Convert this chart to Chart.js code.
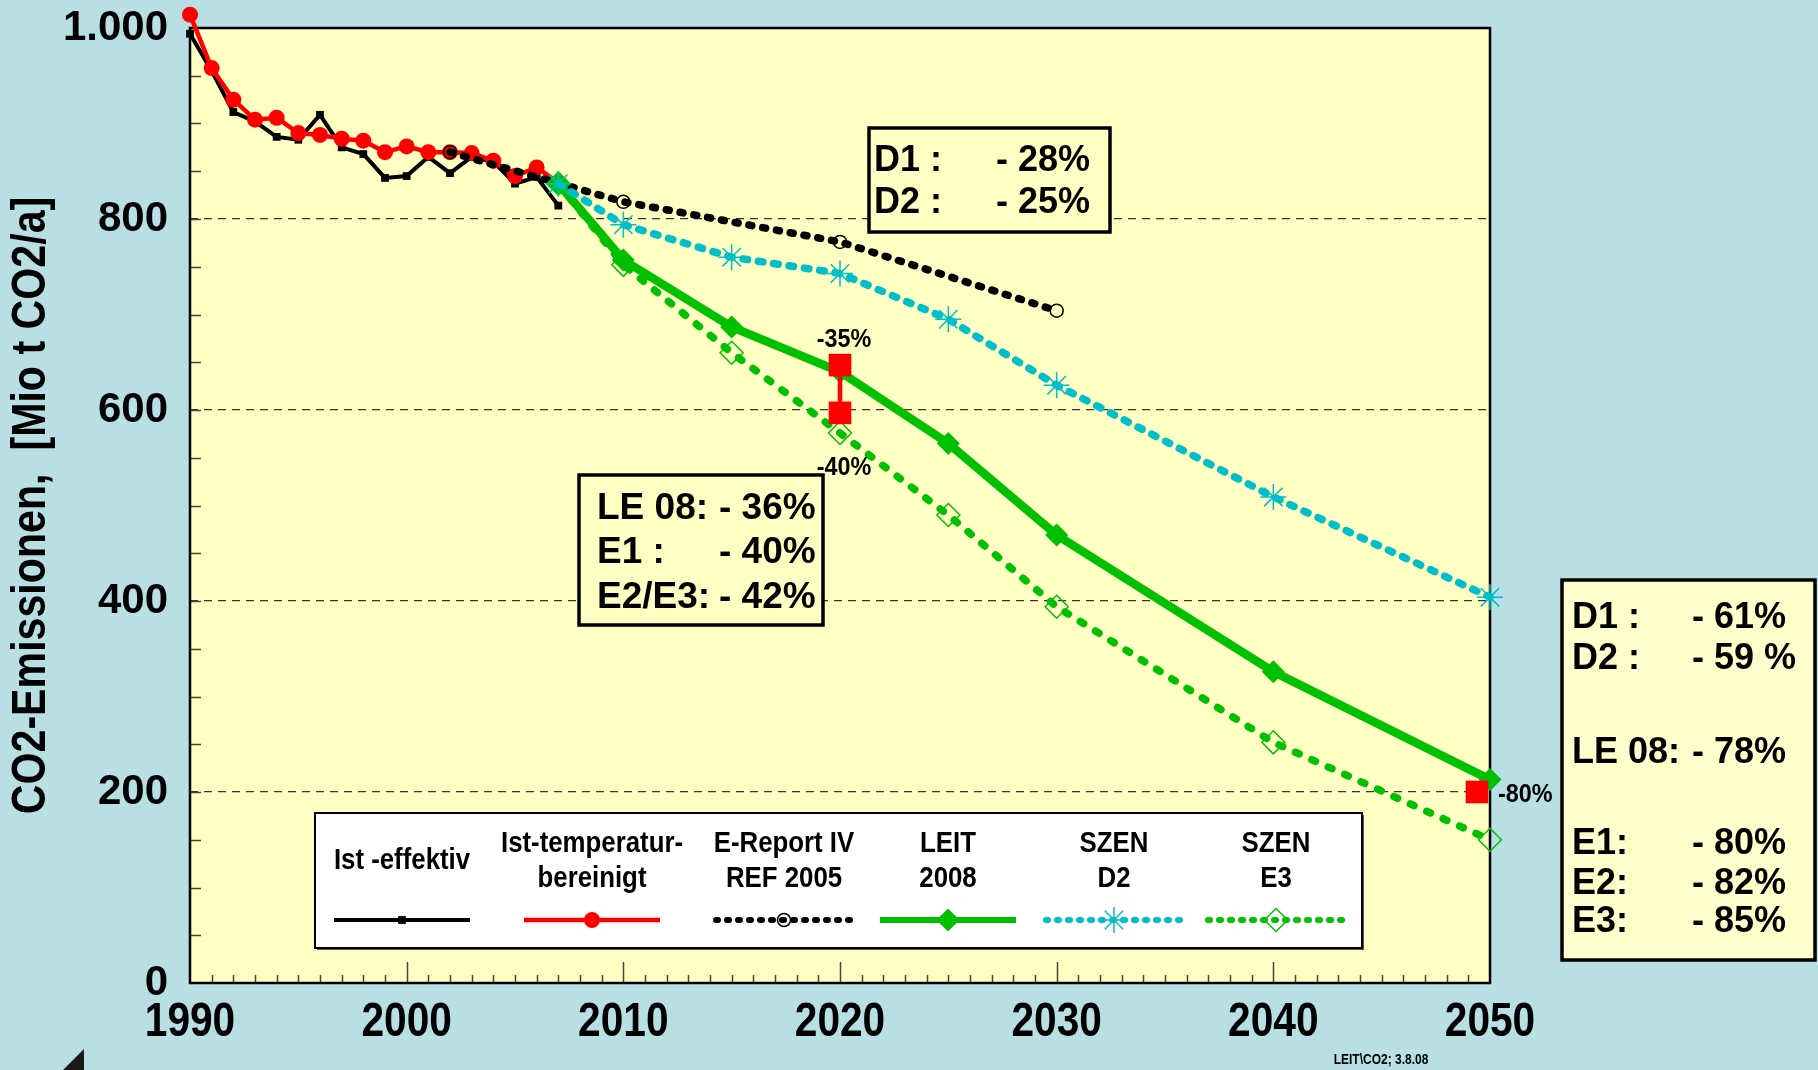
<!DOCTYPE html>
<html>
<head>
<meta charset="utf-8">
<script src="https://cdn.jsdelivr.net/npm/chart.js@4.4.0/dist/chart.umd.min.js"></script>
<style>
  html, body { margin: 0; padding: 0; background: #b8dfe3; }
  #wrap { width: 1818px; height: 1070px; }
</style>
</head>
<body>
<div id="wrap"><canvas id="co2Chart" width="1818" height="1070"></canvas></div>
<script>
// historical values (Mio t CO2/a)
const histYears = [1990, 1991, 1992, 1993, 1994, 1995, 1996, 1997, 1998, 1999, 2000, 2001, 2002, 2003, 2004, 2005, 2006, 2007];
const istEffektiv = [994, 955, 912, 902, 886, 883, 909, 875, 868, 843, 845, 865, 848, 865, 860, 837, 844, 814];
const istBereinigt = [1014, 958, 925, 904, 906, 890, 888, 884, 882, 870, 876, 870, 870, 869, 861, 845, 854, 838];

// scenarios
const refYears = [2002, 2010, 2020, 2030];
const eReportRef = [870, 818, 776, 704];
const scenYears = [2007, 2010, 2015, 2020, 2025, 2030, 2040, 2050];
const leit2008 = [837, 757, 687, 640, 565, 469, 326, 213];
const szenD2 = [837, 794, 760, 743, 695, 626, 509, 404];
const szenE3 = [837, 752, 660, 576, 490, 394, 252, 150];

// targets
const targetYears2020 = [2020, 2020];
const target2020 = [647, 597];
const targetYears2050 = [2049.4];
const target2050 = [200];

const yTicks = [0, 200, 400, 600, 800, 1000];
const yTickLabels = ['0', '200', '400', '600', '800', '1.000'];
const xTicks = [1990, 2000, 2010, 2020, 2030, 2040, 2050];
const xTickLabels = ['1990', '2000', '2010', '2020', '2030', '2040', '2050'];

const SANS = "'Liberation Sans', Arial, sans-serif";

const BLUE_BG = '#b8dfe3';
const PLOT_BG = '#ffffc4';
const GREEN = '#00c000';
const CYAN = '#00bfc8';
const RED = '#ff0000';

function pts(xs, ys) {
  return xs.map((x, i) => ({ x: x, y: ys[i] }));
}

// no narrow font installed, so squeeze Liberation Sans horizontally
function narrowText(ctx, text, x, y, size, sx, align, rot) {
  ctx.save();
  ctx.font = 'bold ' + size + 'px ' + SANS;
  ctx.translate(x, y);
  if (rot) ctx.rotate(rot);
  ctx.scale(sx, 1);
  ctx.textAlign = align || 'center';
  ctx.textBaseline = 'middle';
  ctx.fillText(text, 0, 0);
  ctx.restore();
}

const legendCols = [
  { lines: ['Ist -effektiv'], ds: 0 },
  { lines: ['Ist-temperatur-', 'bereinigt'], ds: 1 },
  { lines: ['E-Report IV', 'REF 2005'], ds: 2 },
  { lines: ['LEIT', '2008'], ds: 3 },
  { lines: ['SZEN', 'D2'], ds: 4 },
  { lines: ['SZEN', 'E3'], ds: 5 }
];

const bgPlugin = {
  id: 'bg',
  beforeDraw(chart) {
    const { ctx, chartArea: a } = chart;
    ctx.save();
    ctx.fillStyle = BLUE_BG;
    ctx.fillRect(0, 0, chart.width, chart.height);
    ctx.fillStyle = PLOT_BG;
    ctx.fillRect(a.left, a.top, a.right - a.left, a.bottom - a.top);
    ctx.restore();
  }
};

const framePlugin = {
  id: 'frame',
  beforeDatasetsDraw(chart) {
    const { ctx, chartArea: a, scales } = chart;
    ctx.save();
    ctx.strokeStyle = '#444';
    ctx.lineWidth = 1.5;
    for (let v = 50; v < 1000; v += 50) {
      const y = Math.round(scales.y.getPixelForValue(v)) + 0.5;
      ctx.beginPath();
      ctx.moveTo(a.left, y);
      ctx.lineTo(a.left + 11, y);
      ctx.stroke();
    }
    for (let yr = 1991; yr < 2050; yr++) {
      const x = Math.round(scales.x.getPixelForValue(yr)) + 0.5;
      const len = yr % 10 === 0 ? 21 : 8;
      ctx.beginPath();
      ctx.moveTo(x, a.bottom);
      ctx.lineTo(x, a.bottom - len);
      ctx.stroke();
    }
    ctx.strokeStyle = '#000';
    ctx.lineWidth = 2.5;
    ctx.strokeRect(a.left, a.top, a.right - a.left, a.bottom - a.top);

    // x tick labels and y title (condensed)
    ctx.fillStyle = '#000';
    xTicks.forEach((v, i) => {
      narrowText(ctx, xTickLabels[i], scales.x.getPixelForValue(v), 1022, 49, 0.83, 'center');
    });
    narrowText(ctx, 'CO2-Emissionen,  [Mio t CO2/a]', 31, (a.top + a.bottom) / 2, 49, 0.84, 'center', -Math.PI / 2);
    ctx.restore();
  },
  afterDatasetsDraw(chart) {
    // 1990 value lies above the axis maximum; Chart.js skips such points, so draw it unbounded
    const p = chart.getDatasetMeta(1).data[0];
    if (p) p.draw(chart.ctx, { left: 0, top: 0, right: chart.width, bottom: chart.height });
  }
};

function textBox(ctx, x, y, w, h, fill, rows, labelX, valueX) {
  ctx.fillStyle = fill;
  ctx.fillRect(x, y, w, h);
  ctx.strokeStyle = '#000';
  ctx.lineWidth = 3.5;
  ctx.strokeRect(x, y, w, h);
  ctx.fillStyle = '#000';
  ctx.textBaseline = 'middle';
  ctx.textAlign = 'left';
  rows.forEach(r => {
    ctx.fillText(r[0], labelX, r[2]);
    if (r[1]) ctx.fillText(r[1], valueX, r[2]);
  });
}

const notesPlugin = {
  id: 'notes',
  afterDraw(chart) {
    const { ctx, scales } = chart;
    const xs = scales.x, ys = scales.y;
    ctx.save();

    // boxes
    ctx.font = 'bold 36px ' + SANS;
    textBox(ctx, 869, 128, 241, 104, PLOT_BG,
      [['D1 :', '- 28%', 161], ['D2 :', '- 25%', 203]], 874, 996);
    ctx.font = 'bold 37px ' + SANS;
    textBox(ctx, 579, 475, 244, 150, PLOT_BG,
      [['LE 08:', '- 36%', 509], ['E1 :', '- 40%', 553], ['E2/E3:', '- 42%', 598]], 597, 719);
    ctx.font = 'bold 36px ' + SANS;
    textBox(ctx, 1562, 580, 253, 380, '#ffffcc',
      [['D1 :', '- 61%', 618], ['D2 :', '- 59 %', 659], ['LE 08:', '- 78%', 753],
       ['E1:', '- 80%', 844], ['E2:', '- 82%', 884], ['E3:', '- 85%', 922]], 1572, 1692);

    // target labels
    ctx.fillStyle = '#000';
    const tx = xs.getPixelForValue(targetYears2020[0]) + 4;
    narrowText(ctx, '-35%', tx, ys.getPixelForValue(target2020[0]) - 25, 26, 0.9, 'center');
    narrowText(ctx, '-40%', tx, ys.getPixelForValue(target2020[1]) + 55, 26, 0.9, 'center');
    narrowText(ctx, '-80%', xs.getPixelForValue(2050) + 8, ys.getPixelForValue(target2050[0]) + 3, 26, 0.9, 'left');

    // legend
    const lx = 315, ly = 813, lw = 1047, lh = 135;
    ctx.fillStyle = '#555';
    ctx.fillRect(lx + 2, ly + 2, lw, lh);
    ctx.fillStyle = '#ffffff';
    ctx.fillRect(lx, ly, lw, lh);
    ctx.strokeStyle = '#000';
    ctx.lineWidth = 2;
    ctx.strokeRect(lx, ly, lw, lh);
    const centers = [402, 592, 784, 948, 1114, 1276];
    legendCols.forEach((col, i) => {
      const cx = centers[i];
      ctx.fillStyle = '#000';
      if (col.lines.length === 1) {
        narrowText(ctx, col.lines[0], cx, 861, 30, 0.86, 'center');
      } else {
        narrowText(ctx, col.lines[0], cx, 844, 30, 0.86, 'center');
        narrowText(ctx, col.lines[1], cx, 879, 30, 0.86, 'center');
      }
      const ds = chart.data.datasets[col.ds];
      ctx.save();
      ctx.strokeStyle = ds.borderColor;
      ctx.lineWidth = Math.min(ds.borderWidth, 6);
      ctx.lineCap = ds.borderCapStyle || 'butt';
      ctx.setLineDash(ds.borderDash ? [2, 9] : []);
      ctx.beginPath();
      ctx.moveTo(cx - 68, 920);
      ctx.lineTo(cx + 68, 920);
      ctx.stroke();
      ctx.restore();
      ctx.save();
      ctx.fillStyle = ds.pointBackgroundColor;
      ctx.strokeStyle = ds.pointBorderColor;
      ctx.lineWidth = ds.pointBorderWidth;
      Chart.helpers.drawPoint(ctx, {
        pointStyle: ds.pointStyle, radius: ds.pointRadius, rotation: 0,
        borderWidth: ds.pointBorderWidth
      }, cx, 920);
      ctx.restore();
    });

    // footnote and corner mark
    ctx.fillStyle = '#000';
    narrowText(ctx, 'LEIT\\CO2; 3.8.08', 1381, 1060, 15, 0.8, 'center');
    ctx.fillStyle = '#1a1a1a';
    ctx.beginPath();
    ctx.moveTo(84, 1049);
    ctx.lineTo(84, 1070);
    ctx.lineTo(63, 1070);
    ctx.closePath();
    ctx.fill();
    ctx.restore();
  }
};

const ctx = document.getElementById('co2Chart');
new Chart(ctx, {
  type: 'line',
  data: {
    datasets: [
      {
        label: 'Ist -effektiv', data: pts(histYears, istEffektiv), order: 8, clip: false,
        borderColor: '#000', borderWidth: 4, pointStyle: 'rect', pointRadius: 5.5,
        pointBackgroundColor: '#000', pointBorderColor: '#000', pointBorderWidth: 0
      },
      {
        label: 'Ist-temperatur-bereinigt', data: pts(histYears, istBereinigt), order: 7, clip: false,
        borderColor: RED, borderWidth: 4.5, pointStyle: 'circle', pointRadius: 8,
        pointBackgroundColor: RED, pointBorderColor: RED, pointBorderWidth: 0
      },
      {
        label: 'E-Report IV REF 2005', data: pts(refYears, eReportRef), order: 6, clip: false,
        borderColor: '#000', borderWidth: 7.5, borderDash: [3, 11], borderCapStyle: 'round',
        pointStyle: 'circle', pointRadius: 6.5, pointBackgroundColor: 'rgba(0,0,0,0)',
        pointBorderColor: '#000', pointBorderWidth: 1.5
      },
      {
        label: 'LEIT 2008', data: pts(scenYears, leit2008), order: 4, clip: false,
        borderColor: GREEN, borderWidth: 8.5, pointStyle: 'rectRot', pointRadius: 11.5,
        pointBackgroundColor: GREEN, pointBorderColor: GREEN, pointBorderWidth: 0
      },
      {
        label: 'SZEN D2', data: pts(scenYears, szenD2), order: 3, clip: false,
        borderColor: CYAN, borderWidth: 7.5, borderDash: [4.5, 11], borderCapStyle: 'round',
        pointStyle: 'star', pointRadius: 13, pointBackgroundColor: CYAN,
        pointBorderColor: CYAN, pointBorderWidth: 1.5
      },
      {
        label: 'SZEN E3', data: pts(scenYears, szenE3), order: 5, clip: false,
        borderColor: GREEN, borderWidth: 7.5, borderDash: [4, 14], borderCapStyle: 'round',
        pointStyle: 'rectRot', pointRadius: 11.5, pointBackgroundColor: 'rgba(0,0,0,0)',
        pointBorderColor: GREEN, pointBorderWidth: 1.5
      },
      {
        label: 'Ziel 2020', data: pts(targetYears2020, target2020), order: 1, clip: false,
        borderColor: RED, borderWidth: 4.5, pointStyle: 'rect', pointRadius: 16,
        pointBackgroundColor: RED, pointBorderColor: RED, pointBorderWidth: 0
      },
      {
        label: 'Ziel 2050', data: pts(targetYears2050, target2050), order: 2, clip: false,
        showLine: false, pointStyle: 'rect', pointRadius: 16,
        pointBackgroundColor: RED, pointBorderColor: RED, pointBorderWidth: 0
      }
    ]
  },
  options: {
    responsive: false,
    animation: false,
    devicePixelRatio: 1,
    layout: { padding: { left: 0, top: 28, right: 328, bottom: 0 } },
    plugins: { legend: { display: false }, tooltip: { enabled: false } },
    elements: { line: { tension: 0 } },
    scales: {
      x: {
        type: 'linear', min: 1990, max: 2050,
        afterFit(scale) { scale.height = 87; },
        afterBuildTicks(scale) { scale.ticks = xTicks.map(v => ({ value: v })); },
        ticks: { display: false },
        grid: { display: false },
        border: { display: false }
      },
      y: {
        min: 0, max: 1000,
        afterFit(scale) { scale.width = 190; scale.paddingTop = 0; scale.paddingBottom = 0; },
        afterBuildTicks(scale) { scale.ticks = yTicks.map(v => ({ value: v })); },
        ticks: {
          padding: 22, color: '#000',
          font: { family: SANS, size: 42, weight: 'bold', lineHeight: 0.4 },
          callback: v => yTickLabels[yTicks.indexOf(v)]
        },
        grid: {
          drawTicks: false, lineWidth: 1.2,
          color: c => (c.tick && c.tick.value > 0 && c.tick.value < 1000) ? '#333' : 'rgba(0,0,0,0)'
        },
        border: { display: false, dash: [8, 6] }
      }
    }
  },
  plugins: [bgPlugin, framePlugin, notesPlugin]
});
</script>
</body>
</html>
